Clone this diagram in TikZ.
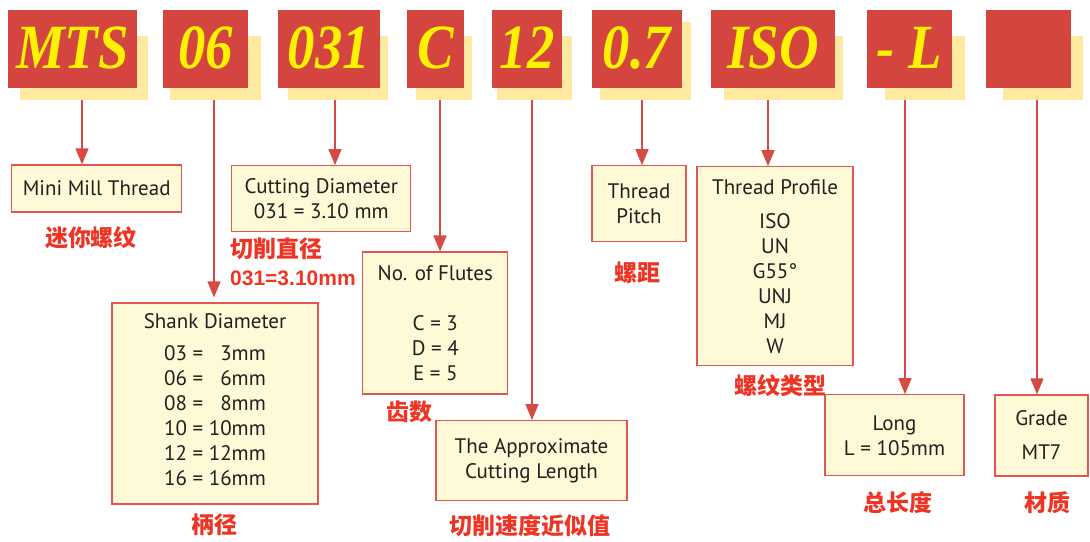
\documentclass[tikz,border=0pt]{standalone}
\usepackage{fontspec}
\setmainfont{PT Sans}
\newfontfamily\hdrfont{Liberation Serif}[FakeStretch=0.87]
\newfontfamily\cjk{Noto Sans CJK SC}
\newfontfamily\lsans{Liberation Sans}
\usetikzlibrary{arrows.meta}
\definecolor{hred}{HTML}{D4453F}
\definecolor{hyellow}{HTML}{FFF200}
\definecolor{hshadow}{HTML}{FFE8A0}
\definecolor{boxfill}{HTML}{FEF9D6}
\definecolor{bordercol}{HTML}{E0574F}
\definecolor{ink}{HTML}{231F20}
\definecolor{labred}{HTML}{EE3524}
\definecolor{arrowred}{HTML}{D64A44}
\tikzset{
 hdr/.style={fill=hred, minimum height=78pt, inner sep=0pt, text height=40pt, text depth=0pt, text=hyellow, font=\hdrfont\bfseries\itshape\fontsize{63}{63}\selectfont},
 shadowbox/.style={fill=hshadow},
 info/.style={draw=bordercol, fill=boxfill, line width=1.2pt, inner sep=0pt, align=center, text=ink, font=\fontsize{21}{25}\selectfont},
 cn/.style={text=labred, font=\cjk\bfseries\fontsize{23}{23}\selectfont, inner sep=0pt},
 conn/.style={draw=arrowred, line width=1.4pt, -{Triangle[width=13pt,length=16pt]}}
}
\begin{document}
\begin{tikzpicture}[x=1pt,y=-1pt]
\useasboundingbox (0,0) rectangle (1090,541);
% shadows
\fill[shadowbox] (20,35.5) rectangle (148,100);
\fill[shadowbox] (170,35.5) rectangle (261,100);
\fill[shadowbox] (288,35.5) rectangle (388,100);
\fill[shadowbox] (416,35.5) rectangle (472,100);
\fill[shadowbox] (497,35.5) rectangle (572,100);
\fill[shadowbox] (600,22) rectangle (691,100);
\fill[shadowbox] (724,35.5) rectangle (843,100);
\fill[shadowbox] (885,35.5) rectangle (965,100);
\fill[shadowbox] (1003,35.5) rectangle (1083,100);
% header boxes
\node[hdr, minimum width=129pt] (h1) at (72.5,48.5) {MTS};
\node[hdr, minimum width=85pt] (h2) at (205.5,48.5) {06};
\node[hdr, minimum width=102pt] (h3) at (329,48.5) {031};
\node[hdr, minimum width=57pt] (h4) at (435.5,48.5) {C};
\node[hdr, minimum width=70pt] (h5) at (527,48.5) {12};
\node[hdr, minimum width=90pt] (h6) at (637,48.5) {0.7};
\node[hdr, minimum width=124pt] (h7) at (773,48.5) {ISO};
\node[hdr, minimum width=85pt] (h8) at (909.5,48.5) {- L};
\node[hdr, minimum width=85pt] (h9) at (1028.5,48.5) {};
% info boxes
\node[info, minimum width=170pt, minimum height=47pt] (mini) at (96.7,188.5) {Mini Mill Thread};
\node[info, minimum width=179pt, minimum height=66pt] (cut) at (321.3,198.7) {Cutting Diameter\\031 = 3.10 mm};
\node[info, minimum width=206pt, minimum height=201pt] (shank) at (215,403.5) {Shank Diameter\\[7pt]\begin{tabular}[t]{@{}r@{ = }r@{}}03&3mm\\06&6mm\\08&8mm\\10&10mm\\12&12mm\\16&16mm\end{tabular}};
\node[info, minimum width=145pt, minimum height=142pt] (flutes) at (435.3,323) {No. of Flutes\\[25pt]C = 3\\D = 4\\E = 5};
\node[info, minimum width=191pt, minimum height=80pt] (approx) at (531.5,460.7) {The Approximate\\Cutting Length};
\node[info, minimum width=94pt, minimum height=76pt] (pitch) at (639,203.8) {Thread\\Pitch};
\node[info, minimum width=156pt, minimum height=199pt] (profile) at (775,266.3) {Thread Profile\\[9pt]ISO\\UN\\G55°\\UNJ\\MJ\\W};
\node[info, minimum width=139pt, minimum height=81pt] (long) at (894.5,435.3) {Long\\L = 105mm};
\node[info, minimum width=93pt, minimum height=81pt] (grade) at (1041.5,435.5) {Grade\\[9pt]MT7};
% chinese labels
\node[cn] (l1) at (91,238) {迷你螺纹};
\node[cn, anchor=west] (l2) at (230,249) {切削直径};
\node[cn, anchor=west, font=\lsans\bfseries\fontsize{21}{21}\selectfont] (l2b) at (230,278) {031=3.10mm};
\node[cn] (l3) at (214,525) {柄径};
\node[cn] (l4) at (409,412) {齿数};
\node[cn] (l5) at (530,526) {切削速度近似值};
\node[cn] (l6) at (637.5,273) {螺距};
\node[cn] (l7) at (780,386) {螺纹类型};
\node[cn] (l8) at (897.5,503) {总长度};
\node[cn] (l9) at (1047.5,503) {材质};
% connectors
\coordinate (a1) at (82,100);
\coordinate (a2) at (214,100);
\coordinate (a3) at (335,100);
\coordinate (a4) at (440,100);
\coordinate (a5) at (532,100);
\coordinate (a6) at (642,100);
\coordinate (a7) at (768,100);
\coordinate (a8) at (905,100);
\coordinate (a9) at (1037,100);
\draw[conn] (a1) -- (a1 |- mini.north);
\draw[conn] (a2) -- ([yshift=5pt]a2 |- shank.north);
\draw[conn] (a3) -- (a3 |- cut.north);
\draw[conn] (a4) -- (a4 |- flutes.north);
\draw[conn] (a5) -- (a5 |- approx.north);
\draw[conn] (a6) -- (a6 |- pitch.north);
\draw[conn] (a7) -- (a7 |- profile.north);
\draw[conn] (a8) -- (a8 |- long.north);
\draw[conn] (a9) -- (a9 |- grade.north);
\end{tikzpicture}
\end{document}
